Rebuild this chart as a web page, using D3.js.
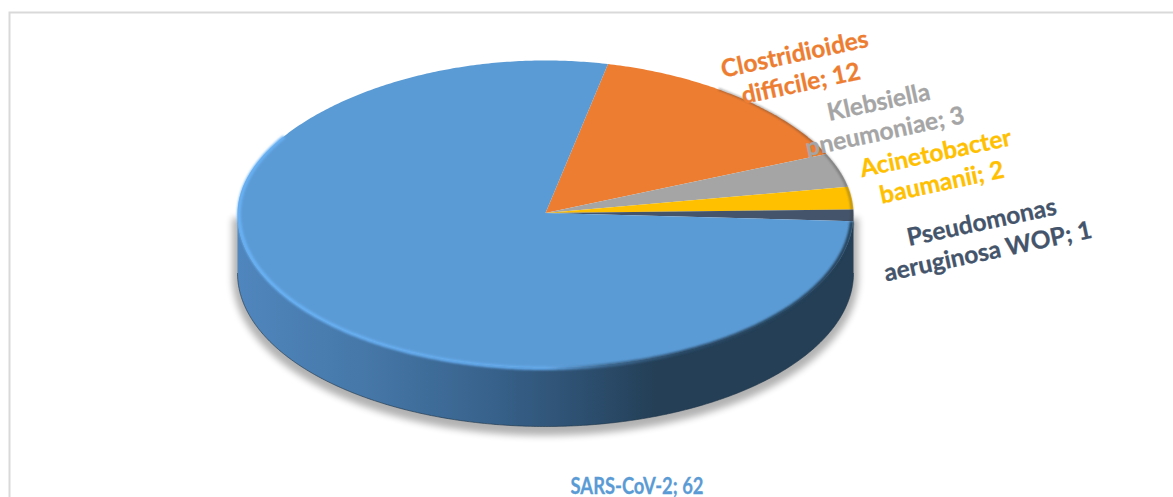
<!DOCTYPE html>
<html>
<head>
<meta charset="utf-8">
<script src="https://cdn.jsdelivr.net/npm/d3@7"></script>
<style>
  html, body { margin: 0; padding: 0; background: #fff; overflow: hidden; }
  svg { display: block; }
  text { font-family: Lato, "Open Sans", sans-serif; font-weight: 700; }
</style>
</head>
<body>
<svg id="chart" width="1173" height="497"></svg>
<script>
// Chart data
const categories = ["SARS-CoV-2", "Clostridioides difficile", "Klebsiella pneumoniae", "Acinetobacter baumanii", "Pseudomonas aeruginosa WOP"];
const values = [62, 12, 3, 2, 1];
const colors = ["#5b9bd5", "#ed7d31", "#a5a5a5", "#ffc000", "#44546a"];
const wallColors = ["#243f56", "#a04f1a", "#6f6f6f", "#a87f00", "#1f2d3d"];

// Where each category name wraps
const labelLines = [
  [categories[0] + "; " + values[0]],
  ["Clostridioides", "difficile; " + values[1]],
  ["Klebsiella", "pneumoniae; " + values[2]],
  ["Acinetobacter", "baumanii; " + values[3]],
  ["Pseudomonas", "aeruginosa WOP; " + values[4]]
];

//Chart layout
const width = 1173, height = 497;
const cx = 545.5, cy = 214, rx = 308, ry = 153.5, depth = 59;
const startAngle = 11.7 * Math.PI / 180;
const backFlatten = 9; // the far half of the disc is a bit flatter than an ellipse

const labelLayout = [
  {x: 637, y: 486.5, rotate: 0, size: 23, stretch: 0.8},
  {x: 798, y: 70, rotate: -12, size: 24.5, stretch: 1},
  {x: 882, y: 118, rotate: -12, size: 24.5, stretch: 1},
  {x: 939, y: 169, rotate: -12, size: 24.5, stretch: 1},
  {x: 985, y: 238, rotate: -12, size: 24.5, stretch: 1}
];
const lineHeight = 30;

const svg = d3.select("#chart");
const defs = svg.append("defs");

const wallGrad = defs.append("linearGradient").attr("id", "wallGrad")
  .attr("gradientUnits", "userSpaceOnUse")
  .attr("x1", cx - rx).attr("x2", cx + rx).attr("y1", 0).attr("y2", 0);
[[0, "#4f86bd"], [0.2, "#4678a9"], [0.42, "#37618a"], [0.6, "#2a4a68"], [0.68, "#243f56"], [1, "#243f56"]]
  .forEach(s => wallGrad.append("stop").attr("offset", s[0]).attr("stop-color", s[1]));

const rimGrad = defs.append("linearGradient").attr("id", "rimGrad")
  .attr("gradientUnits", "userSpaceOnUse")
  .attr("x1", cx - rx).attr("x2", cx + rx).attr("y1", 0).attr("y2", 0);
[[0, "#69b2f5"], [0.5, "#64abee"], [0.6, "#3f6d96"], [0.72, "#2c4d6b"], [1, "#243f56"]]
  .forEach(s => rimGrad.append("stop").attr("offset", s[0]).attr("stop-color", s[1]));

defs.append("filter").attr("id", "shadowBlur")
  .attr("x", "-10%").attr("y", "-10%").attr("width", "120%").attr("height", "120%")
  .append("feGaussianBlur").attr("stdDeviation", 3.5);
defs.append("filter").attr("id", "rimBlur")
  .attr("x", "-5%").attr("y", "-5%").attr("width", "110%").attr("height", "110%")
  .append("feGaussianBlur").attr("stdDeviation", 0.9);

// Chart frame
svg.append("rect")
  .attr("x", 9.5).attr("y", 12.5)
  .attr("width", width + 20).attr("height", height + 20)
  .attr("fill", "#fff").attr("stroke", "#d9d9d9").attr("stroke-width", 2);

const pie = d3.pie().sort(null).startAngle(startAngle).endAngle(startAngle + 2 * Math.PI);
const slices = pie(values.slice(1).concat(values[0]));
const sliceIndex = [1, 2, 3, 4, 0];

// x,y on the tilted rim for a pie angle
const rimX = a => cx + rx * Math.sin(a);
const rimY = a => {
  const t = Math.cos(a);
  return cy - ry * t + (t > 0 ? backFlatten * t * (1 - t * t) : 0);
};
const angleRange = (a0, a1) => d3.range(a0, a1, 0.01).concat(a1);

const wall = d3.area().x(rimX).y0(rimY).y1(a => rimY(a) + depth);

// Drop shadow under the front of the disc
svg.append("path")
  .attr("d", wall(angleRange(Math.PI / 2, 1.5 * Math.PI)))
  .attr("transform", "translate(0,4)")
  .attr("fill", "#000").attr("stroke", "#000").attr("stroke-width", 10)
  .attr("opacity", 0.3)
  .attr("filter", "url(#shadowBlur)");

// Side wall, only the front half of the rim shows
slices.forEach((s, i) => {
  const a0 = Math.max(s.startAngle, Math.PI / 2), a1 = Math.min(s.endAngle, 1.5 * Math.PI);
  if (a1 <= a0) return;
  svg.append("path")
    .attr("d", wall(angleRange(a0, a1)))
    .attr("fill", sliceIndex[i] === 0 ? "url(#wallGrad)" : wallColors[sliceIndex[i]]);
});

// Dark line along the bottom edge of the wall
const bottomEdge = d3.line().x(rimX).y(a => rimY(a) + depth);
svg.append("path")
  .attr("d", bottomEdge(angleRange(Math.PI / 2, 1.5 * Math.PI)))
  .attr("fill", "none").attr("stroke", "#1d3448").attr("stroke-width", 1).attr("opacity", 0.6);

// Top face, one wedge per slice
const rimLine = d3.line().x(rimX).y(rimY);
svg.selectAll("path.slice")
  .data(slices)
  .enter().append("path")
  .attr("class", "slice")
  .attr("d", d => `M${cx},${cy - 1}L` + rimLine(angleRange(d.startAngle, d.endAngle)).slice(1) + "Z")
  .attr("fill", (d, i) => colors[sliceIndex[i]]);

// Bevel highlight round the front of the face, just inside the rim
const innerRim = d3.line()
  .x(a => cx + (rx - 1.5) * Math.sin(a))
  .y(a => rimY(a) - 1.5 * Math.cos(a) * ry / rx);
svg.append("path")
  .attr("d", innerRim(angleRange(Math.PI / 2 + 0.05, 1.5 * Math.PI + 0.55)))
  .attr("fill", "none").attr("stroke", "url(#rimGrad)").attr("stroke-width", 3.5)
  .attr("filter", "url(#rimBlur)");

// Soft dark edge on the back right of the face
svg.append("path")
  .attr("d", innerRim(angleRange(0.6, Math.PI / 2 + 0.05)))
  .attr("fill", "none").attr("stroke", "#3a3a3a").attr("stroke-width", 2).attr("opacity", 0.45)
  .attr("filter", "url(#rimBlur)");

// Data labels
labelLines.forEach((lines, i) => {
  const pos = labelLayout[i];
  const g = svg.append("g")
    .attr("transform", `translate(${pos.x},${pos.y}) rotate(${pos.rotate}) scale(${pos.stretch},1)`);
  g.selectAll("text")
    .data(lines)
    .enter().append("text")
    .attr("x", 0)
    .attr("y", (d, j) => (j - (lines.length - 1) / 2) * lineHeight + 7)
    .attr("text-anchor", "middle")
    .attr("font-size", pos.size)
    .attr("fill", colors[i])
    .attr("stroke", colors[i])
    .attr("stroke-width", 0.3)
    .text(d => d);
});
</script>
</body>
</html>
